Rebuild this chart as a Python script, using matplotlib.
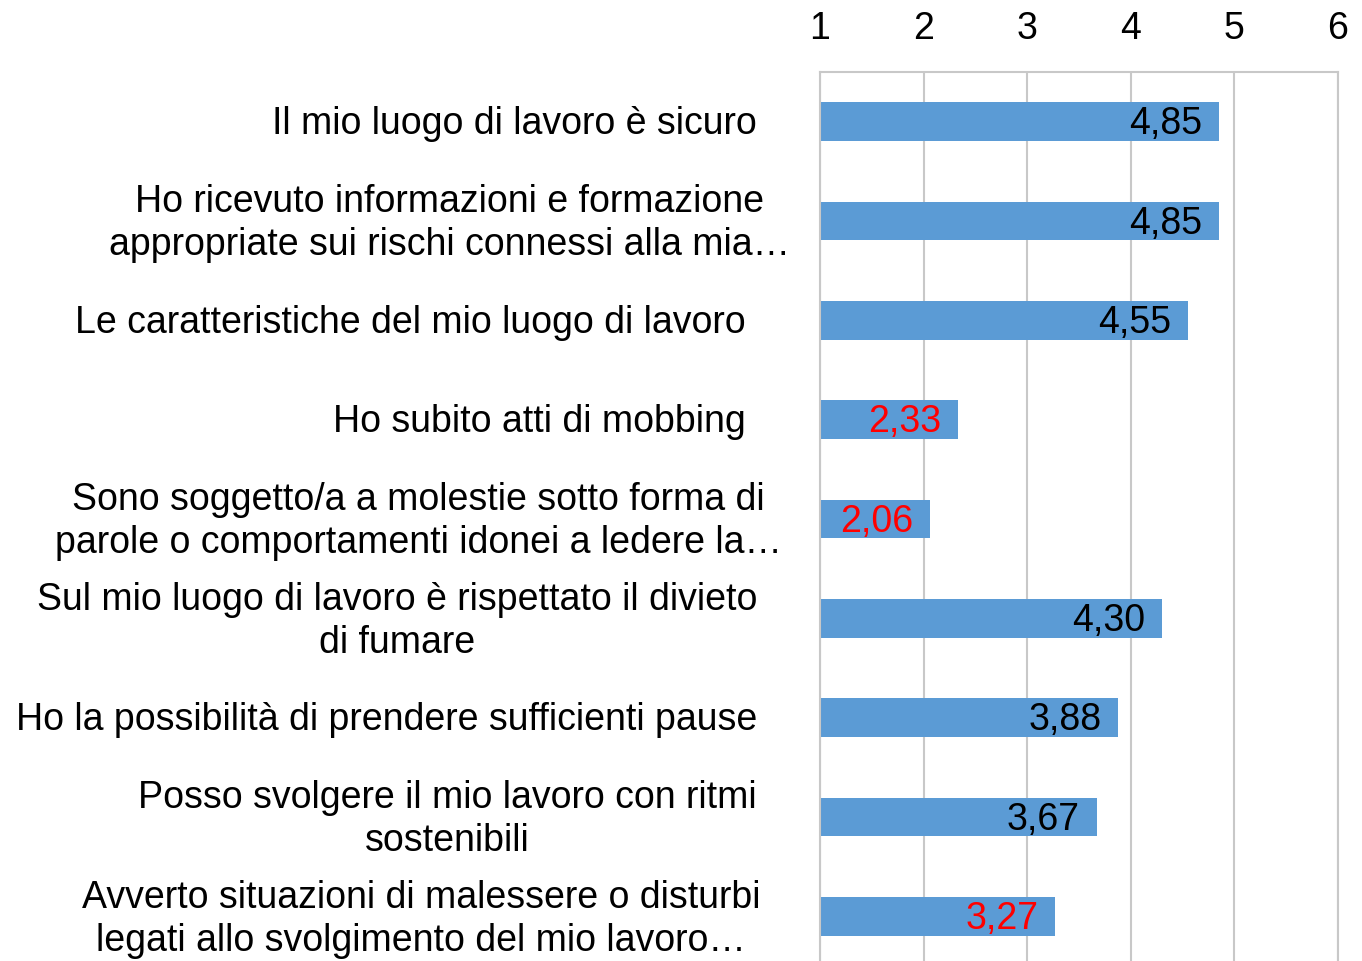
import matplotlib.pyplot as plt
from matplotlib.transforms import blended_transform_factory, offset_copy

plt.rcParams['font.family'] = ['Liberation Sans', 'DejaVu Sans']

# dati
domande = [
    "Il mio luogo di lavoro è sicuro",
    "Ho ricevuto informazioni e formazione\nappropriate sui rischi connessi alla mia…",
    "Le caratteristiche del mio luogo di lavoro",
    "Ho subito atti di mobbing",
    "Sono soggetto/a a molestie sotto forma di\nparole o comportamenti idonei a ledere la…",
    "Sul mio luogo di lavoro è rispettato il divieto\ndi fumare",
    "Ho la possibilità di prendere sufficienti pause",
    "Posso svolgere il mio lavoro con ritmi\nsostenibili",
    "Avverto situazioni di malessere o disturbi\nlegati allo svolgimento del mio lavoro…",
]
medie = [4.85, 4.85, 4.55, 2.33, 2.06, 4.30, 3.88, 3.67, 3.27]
etichette = ["4,85", "4,85", "4,55", "2,33", "2,06", "4,30", "3,88", "3,67", "3,27"]
negativo = [False, False, False, True, True, False, False, False, True]

# bordo destro (px) delle etichette, come nell'originale
bordo_dx = [757, 790, 746, 746, 782, 757, 757, 757, 760]

W, H = 1362, 961
FS = 27
fig = plt.figure(figsize=(W / 100, H / 100), dpi=100)
ax = fig.add_axes([820 / W, 1 - 966 / H, (1338 - 820) / W, (966 - 72) / H])

pos = list(range(len(domande)))
ax.barh(pos, [m - 1 for m in medie], left=1, height=0.39, color="#5B9BD5", zorder=2)

ax.set_xlim(1, 6)
ax.set_ylim(len(domande) - 0.5, -0.5)
ax.set_xticks([1, 2, 3, 4, 5, 6])
ax.xaxis.tick_top()
ax.tick_params(axis='x', length=0, pad=18, labelsize=FS)
ax.set_yticks([])
ax.grid(axis='x', color="#C8C8C8", lw=1.5, zorder=0)
for s in ["top", "left", "right"]:
    ax.spines[s].set_color("#C8C8C8")
    ax.spines[s].set_linewidth(1.5)
ax.spines["bottom"].set_visible(False)

# valori dentro le barre
for p, m, t, neg in zip(pos, medie, etichette, negativo):
    ax.annotate(t, (m, p), xytext=(-12, -2), textcoords="offset points",
                ha="right", va="center", fontsize=FS,
                color="#FF0000" if neg else "black", zorder=3)

# etichette delle domande
trans = offset_copy(blended_transform_factory(fig.transFigure, ax.transData),
                    fig=fig, x=0, y=-2, units="points")
for p, d, x in zip(pos, domande, bordo_dx):
    ax.text(x / W, p, d, transform=trans, ha="right", va="center",
            multialignment="center", fontsize=FS, linespacing=1.25, clip_on=False)

plt.savefig("out.png", dpi=100)
